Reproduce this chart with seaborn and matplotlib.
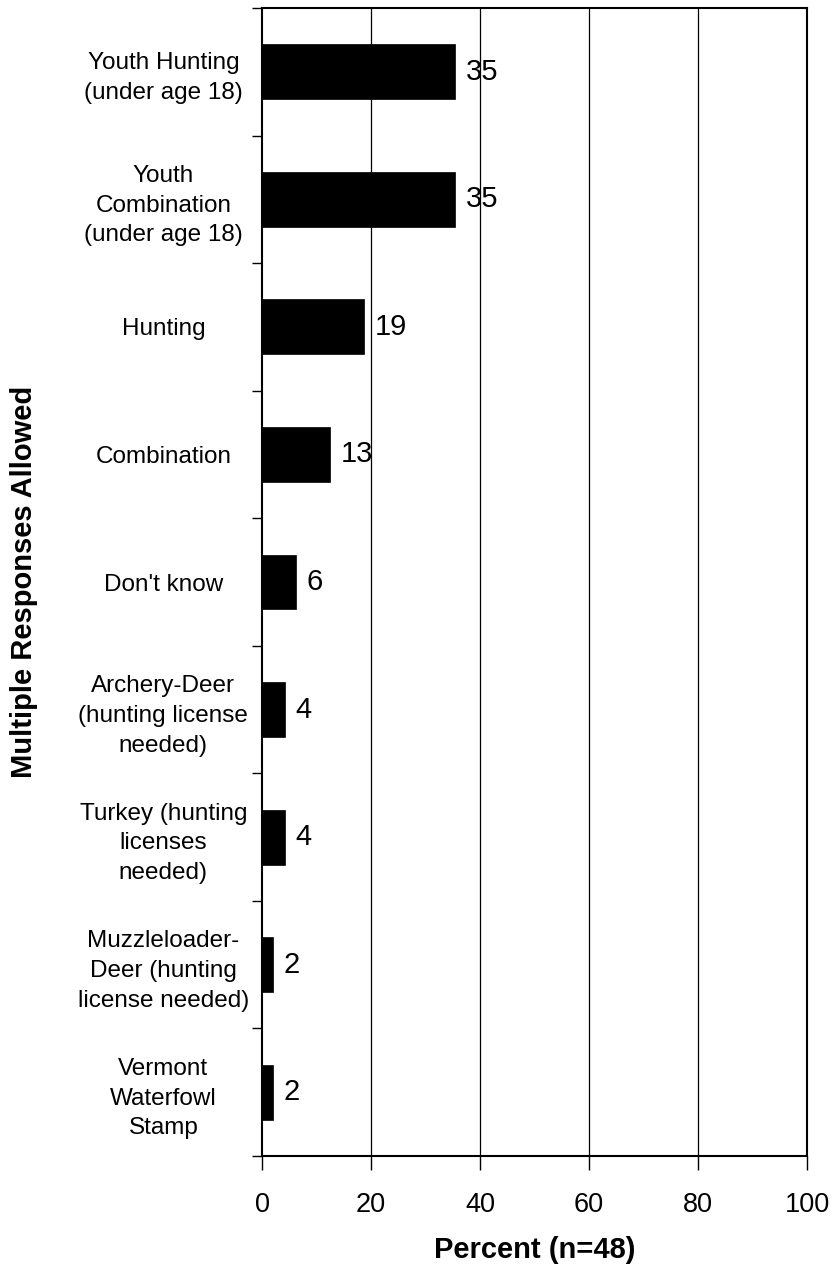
import matplotlib
matplotlib.use("Agg")
import matplotlib.pyplot as plt
import seaborn as sns
import pandas as pd
import numpy as np
from matplotlib.ticker import FixedLocator

categories = [
    "Youth Hunting\n(under age 18)",
    "Youth\nCombination\n(under age 18)",
    "Hunting",
    "Combination",
    "Don't know",
    "Archery-Deer\n(hunting license\nneeded)",
    "Turkey (hunting\nlicenses\nneeded)",
    "Muzzleloader-\nDeer (hunting\nlicense needed)",
    "Vermont\nWaterfowl\nStamp",
]
values = [35.42, 35.42, 18.75, 12.5, 6.25, 4.17, 4.17, 2.08, 2.08]
x_ticks = [0, 20, 40, 60, 80, 100]

sns.set_theme(style="white")
plt.rcParams["font.family"] = ["Liberation Sans", "DejaVu Sans"]
plt.rcParams["text.color"] = "black"
plt.rcParams["xtick.color"] = "black"
plt.rcParams["ytick.color"] = "black"
plt.rcParams["axes.labelcolor"] = "black"

df = pd.DataFrame({"cat": categories, "val": values})

fig = plt.figure(figsize=(8.35, 12.68), dpi=100)
ax = fig.add_axes([0.3138, 0.0883, 0.9665 - 0.3138, 0.9937 - 0.0883])

sns.barplot(data=df, y="cat", x="val", orient="h", color="black",
            width=0.43, saturation=1, ax=ax, edgecolor="black", linewidth=0.5)

ax.set_xlim(0, 100)
ax.set_ylim(len(categories) - 0.5, -0.5)
ax.set_xticks(x_ticks)
ax.set_xticklabels([str(t) for t in x_ticks], fontsize=19.5)
ax.tick_params(axis="x", direction="out", length=10, width=1, color="black",
               pad=16, bottom=True)

# category labels
ax.set_yticks(range(len(categories)))
ax.set_yticklabels(categories, fontsize=17.5, ha="center", linespacing=1.45)
ax.tick_params(axis="y", which="major", length=0, pad=71)
ax.yaxis.set_minor_locator(FixedLocator(np.arange(-0.5, len(categories) + 0.5, 1)))
ax.tick_params(axis="y", which="minor", direction="out", length=7, width=1,
               color="black", left=True)

# gridlines
ax.grid(False)
for t in x_ticks[1:-1]:
    ax.axvline(t, color="black", linewidth=0.9, zorder=0)

for s in ax.spines.values():
    s.set_visible(True)
    s.set_color("black")
    s.set_linewidth(1.5)

for i, v in enumerate(values):
    ax.text(v + 1.9, i, str(int(np.floor(v + 0.5))), va="center", ha="left",
            fontsize=21, color="black", zorder=5)

ax.set_xlabel("Percent (n=48)", fontsize=21, fontweight="bold", labelpad=13)
ax.set_ylabel("")
fig.text(0.029, 1 - 582 / 1268, "Multiple Responses Allowed",
         rotation=90, fontsize=21, fontweight="bold", ha="center", va="center")

fig.savefig("out.png", dpi=100)
